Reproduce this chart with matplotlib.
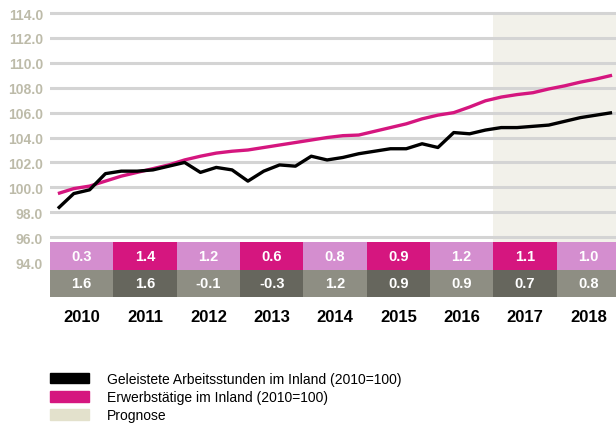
import numpy as np
import matplotlib
matplotlib.use("Agg")
from matplotlib import pyplot as plt
from matplotlib.patches import Patch

plt.rcParams['font.family'] = ['Liberation Sans', 'DejaVu Sans']

years = [2010, 2011, 2012, 2013, 2014, 2015, 2016, 2017, 2018]

# quarterly index values (2010=100)
arbeitsstunden = [98.3, 99.5, 99.8, 101.1,
                  101.3, 101.3, 101.4, 101.7,
                  102.0, 101.2, 101.6, 101.4,
                  100.5, 101.3, 101.8, 101.7,
                  102.5, 102.2, 102.4, 102.7,
                  102.9, 103.1, 103.1, 103.5,
                  103.2, 104.4, 104.3, 104.6,
                  104.8, 104.8, 104.9, 105.0,
                  105.3, 105.6, 105.8, 106.0]
erwerbstaetige = [99.5, 99.9, 100.1, 100.5,
                  100.9, 101.2, 101.5, 101.8,
                  102.2, 102.5, 102.75, 102.9,
                  103.0, 103.2, 103.4, 103.6,
                  103.8, 104.0, 104.15, 104.2,
                  104.5, 104.8, 105.1, 105.5,
                  105.8, 106.0, 106.45, 106.95,
                  107.25, 107.45, 107.6, 107.9,
                  108.15, 108.45, 108.7, 109.0]

# yearly change rates (%) shown in the table rows
erwerbstaetige_rate = ["0.3", "1.4", "1.2", "0.6", "0.8", "0.9", "1.2", "1.1", "1.0"]
arbeitsstunden_rate = ["1.6", "1.6", "-0.1", "-0.3", "1.2", "0.9", "0.9", "0.7", "0.8"]

prognose_start = 2017
yticks = [94.0, 96.0, 98.0, 100.0, 102.0, 104.0, 106.0, 108.0, 110.0, 112.0, 114.0]

legend_labels = ["Geleistete Arbeitsstunden im Inland (2010=100)",
                 "Erwerbstätige im Inland (2010=100)",
                 "Prognose"]

MAGENTA = "#D5167F"
PINK = "#D48ECF"
DARK = "#66665D"
GREY = "#8E8E83"
TICK = "#BDBBA9"
GRID = "#D4D4D4"
SHADE = "#F2F1EA"
SHADE_LEG = "#E3E1CC"

fig = plt.figure(figsize=(6.16, 4.27), dpi=100)
# the last column runs a little past the right edge of the picture
ax = fig.add_axes([50 / 616, 0.3023, 570 / 616, 0.6707])

n = len(years)
xq = years[0] + (np.arange(len(arbeitsstunden)) + 0.5) / 4

# prognosis shading
ax.fill_between([prognose_start, years[-1] + 1], 95.6, 114.0, color=SHADE, lw=0, zorder=0)

# grid lines (96..114)
for v in yticks[1:]:
    ax.axhline(v, color=GRID, lw=2.2, zorder=1)

ax.plot(xq, erwerbstaetige, color=MAGENTA, lw=2.4, zorder=3, solid_capstyle='butt')
ax.plot(xq, arbeitsstunden, color="black", lw=2.4, zorder=4, solid_capstyle='butt')

# table rows
xc = np.array(years) + 0.5
top_row = (93.36, 95.63)
bot_row = (91.2, 93.36)
ax.bar(xc, top_row[1] - top_row[0], bottom=top_row[0], width=1.0,
       color=[PINK if i % 2 == 0 else MAGENTA for i in range(n)], lw=0, zorder=5)
ax.bar(xc, bot_row[1] - bot_row[0], bottom=bot_row[0], width=1.0,
       color=[GREY if i % 2 == 0 else DARK for i in range(n)], lw=0, zorder=5)
for x, a, b in zip(xc, erwerbstaetige_rate, arbeitsstunden_rate):
    ax.text(x, sum(top_row) / 2, a, color="white", fontsize=10.5, fontweight="bold",
            ha="center", va="center", zorder=6)
    ax.text(x, sum(bot_row) / 2, b, color="white", fontsize=10.5, fontweight="bold",
            ha="center", va="center", zorder=6)

ax.set_xlim(years[0], years[-1] + 1)
ax.set_ylim(91.2, 114.2)
ax.set_yticks(yticks)
ax.set_yticklabels([f"{v:.1f}" for v in yticks], color=TICK, fontsize=10, fontweight="bold")
ax.set_xticks(xc)
ax.set_xticklabels([str(y) for y in years], fontsize=12, fontweight="bold")
ax.tick_params(axis='both', length=0)
ax.tick_params(axis='y', pad=5)
ax.tick_params(axis='x', pad=9)
for s in ax.spines.values():
    s.set_visible(False)

handles = [Patch(color="black"), Patch(color=MAGENTA), Patch(color=SHADE_LEG)]
fig.legend(handles, legend_labels, loc="upper left",
           bbox_to_anchor=(50 / 616, 1 - 373 / 427), frameon=False,
           prop={'family': ['Liberation Sans Narrow', 'Liberation Sans'], 'size': 10},
           handlelength=2.8, handleheight=0.79, handletextpad=1.3,
           labelspacing=0.3, borderpad=0, borderaxespad=0)

fig.savefig("out.png", dpi=100)
